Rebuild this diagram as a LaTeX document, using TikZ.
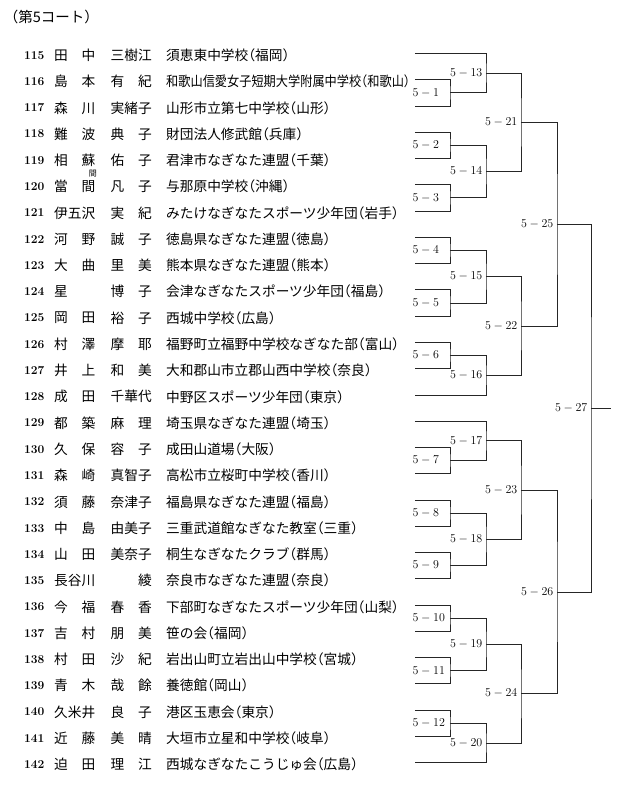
\documentclass[tikz,border=0pt]{standalone}
\usepackage{fontspec}
\usepackage{graphicx}
\newfontfamily\jp[RawFeature=+halt]{Noto Sans CJK JP}
\begin{document}
\begin{tikzpicture}
      [x=1pt,y=-26.27pt,every node/.style={inner sep=0pt},
       num/.style={anchor=west,yshift=-2pt,font=\bfseries\fontsize{12}{12}\selectfont},
       jpt/.style={anchor=west,yshift=-2pt,font=\jp\fontsize{13.7}{14}\selectfont},
       ruby/.style={font=\jp\fontsize{8}{8}\selectfont},
       bracket/.style={line width=.6pt,black!85},
       blabel/.style={anchor=west,font=\fontsize{12}{12}\selectfont},
       mlabel/.style={anchor=east,inner xsep=3.5pt,font=\fontsize{12}{12}\selectfont}]
      \useasboundingbox (0,-2.029) rectangle (628,27.93);

      \node[jpt,yshift=2pt,font=\jp\fontsize{14.5}{15}\selectfont] (title) at (11,-1.39) {（第5コート）};

      % entries
      \foreach \sei/\mei/\sch [count=\k from 0] in {
        田\hfill 中/三樹江/須恵東中学校（福岡）,
        島\hfill 本/有\hfill 紀/{\scalebox{.89}[1]{和歌山信愛女子短期大学附属中学校（和歌山）}},
        森\hfill 川/実緒子/山形市立第七中学校（山形）,
        難\hfill 波/典\hfill 子/財団法人修武館（兵庫）,
        相\hfill 蘇/佑\hfill 子/君津市なぎなた連盟（千葉）,
        當\hfill 間/凡\hfill 子/与那原中学校（沖縄）,
        伊五沢/実\hfill 紀/みたけなぎなたスポーツ少年団（岩手）,
        河\hfill 野/誠\hfill 子/徳島県なぎなた連盟（徳島）,
        大\hfill 曲/里\hfill 美/熊本県なぎなた連盟（熊本）,
        星\hfill\mbox{}/博\hfill 子/会津なぎなたスポーツ少年団（福島）,
        岡\hfill 田/裕\hfill 子/西城中学校（広島）,
        村\hfill 澤/摩\hfill 耶/福野町立福野中学校なぎなた部（富山）,
        井\hfill 上/和\hfill 美/大和郡山市立郡山西中学校（奈良）,
        成\hfill 田/千華代/中野区スポーツ少年団（東京）,
        都\hfill 築/麻\hfill 理/埼玉県なぎなた連盟（埼玉）,
        久\hfill 保/容\hfill 子/成田山道場（大阪）,
        森\hfill 崎/真智子/高松市立桜町中学校（香川）,
        須\hfill 藤/奈津子/福島県なぎなた連盟（福島）,
        中\hfill 島/由美子/三重武道館なぎなた教室（三重）,
        山\hfill 田/美奈子/桐生なぎなたクラブ（群馬）,
        長谷川/\mbox{}\hfill 綾/奈良市なぎなた連盟（奈良）,
        今\hfill 福/春\hfill 香/下部町なぎなたスポーツ少年団（山梨）,
        吉\hfill 村/朋\hfill 美/笹の会（福岡）,
        村\hfill 田/沙\hfill 紀/岩出山町立岩出山中学校（宮城）,
        青\hfill 木/哉\hfill 餘/養徳館（岡山）,
        久米井/良\hfill 子/港区玉恵会（東京）,
        近\hfill 藤/美\hfill 晴/大垣市立星和中学校（岐阜）,
        迫\hfill 田/理\hfill 江/西城なぎなたこうじゅ会（広島）}
      {
        \pgfmathtruncatemacro\num{115+\k}
        \node[num] (n\num) at (24,\k) {\num};
        \node[jpt] (s\num) at (54,\k) {\makebox[41.1pt][s]{\sei}};
        \node[jpt] (g\num) at (110.5,\k) {\makebox[41.1pt][s]{\mei}};
        \node[jpt] (c\num) at (166,\k) {\sch};
        \coordinate (r\num) at (415,\k);
      }
      \node[ruby] (ruby120) at (93,4.57) {間};

      % match points
      \foreach \m/\x/\y in {1/450/1.5,2/450/3.5,3/450/5.5,4/450/7.5,5/450/9.5,6/450/11.5,
        7/450/15.5,8/450/17.5,9/450/19.5,10/450/21.5,11/450/23.5,12/450/25.5,
        13/486/0.75,14/486/4.5,15/486/8.5,16/486/12.25,17/486/14.75,18/486/18.5,
        19/486/22.5,20/486/26.25,21/521/2.625,22/521/10.375,23/521/16.625,
        24/521/24.375,25/557/6.5,26/557/20.5,27/591/13.5}
        \coordinate (m\m) at (\x,\y);
      \coordinate (fin) at (611,13.5);

      \foreach \m/\from/\to in {1/r116/r117,2/r118/r119,3/r120/r121,4/r122/r123,
        5/r124/r125,6/r126/r127,7/r130/r131,8/r132/r133,9/r134/r135,10/r136/r137,
        11/r138/r139,12/r140/r141,13/r115/m1,14/m2/m3,15/m4/m5,16/m6/r128,
        17/r129/m7,18/m8/m9,19/m10/m11,20/m12/r142,21/m13/m14,22/m15/m16,
        23/m17/m18,24/m19/m20,25/m21/m22,26/m23/m24,27/m25/m26}
      \draw[bracket] (\from) -| (m\m) |- (\to);
      \draw[bracket] (m27) -- (fin);

      \foreach \m in {1,...,12}
      \node[blabel] (l\m) at ([xshift=-37.5pt]m\m) {$5-\m$};
      \foreach \m in {13,...,27}
      \node[mlabel] (l\m) at (m\m) {$5-\m$};
\end{tikzpicture}
\end{document}
